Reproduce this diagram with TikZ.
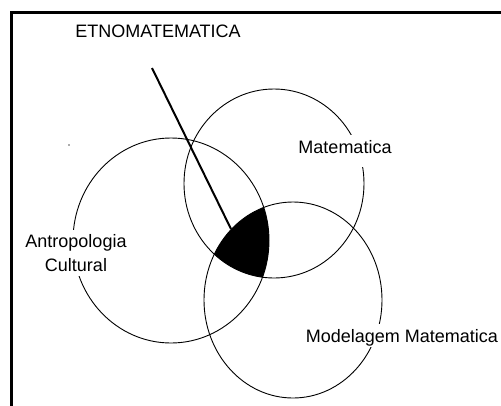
\documentclass[tikz,border=0pt]{standalone}
\usepackage{fontspec}
\setmainfont{Liberation Sans}

\begin{document}
\begin{tikzpicture}[x=1pt, y=-1pt, every node/.style={font=\fontsize{18}{23.5}\selectfont},
    circ/.style={line width=0.9pt},
    lbl/.style={fill=white, inner xsep=2pt, inner ysep=5pt}]
      \clip (0,0) rectangle (501,405);
      \fill[white] (0,0) rectangle (501,405);

      \coordinate (ant) at (171,240.5);
      \coordinate (mat) at (274,183.5);
      \coordinate (mod) at (293,300);
      \coordinate (top) at (152,68);
      \coordinate (tip) at (231,229);

      % frame, open to the right and below
      \draw[line width=2.6pt] (11.5,12.5) rectangle (540,440);

      % common part of the three sets
      \begin{scope}
        \clip (ant) ellipse [x radius=98pt, y radius=102.5pt];
        \clip (mat) ellipse [x radius=90pt, y radius=94.5pt];
        \fill (mod) ellipse [x radius=89pt, y radius=98pt];
      \end{scope}

      \draw[circ] (ant) ellipse [x radius=98pt, y radius=102.5pt];
      \draw[circ] (mat) ellipse [x radius=90pt, y radius=94.5pt];
      \draw[circ] (mod) ellipse [x radius=89pt, y radius=98pt];

      \draw[line width=2pt] (top) -- (tip);
      \fill[gray!70!black] (69,145) circle (0.9);

      \node[anchor=base] (etno) at (158,37) {ETNOMATEMATICA};
      \node[lbl, anchor=base, text depth=9pt] (matl) at (345,153) {Matematica};
      \node[lbl, align=center] (antl) at (76,253) {Antropologia\\Cultural};
      \node[lbl, anchor=base, text depth=0pt] (modl) at (402,342) {Modelagem Matematica};
\end{tikzpicture}
\end{document}
